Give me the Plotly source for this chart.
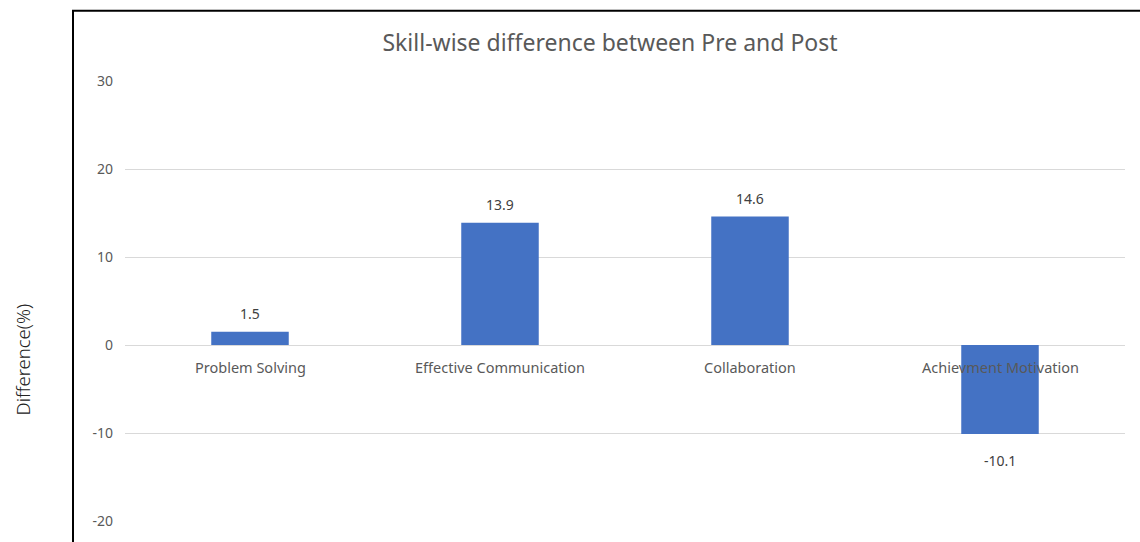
import plotly.graph_objects as go

# Skill categories and pre/post difference (%)
skills = ["Problem Solving", "Effective Communication", "Collaboration", "Achievment Motivation"]
differences = [1.5, 13.9, 14.6, -10.1]
y_ticks = [-20, -10, 0, 10, 20, 30]

W, H = 1140, 542
ML, MR, MT, MB = 125, 15, 81, 17
PW, PH = W - ML - MR, H - MT - MB


def px_x(px):
    return (px - ML) / PW


def px_y(py):
    return (H - MB - py) / PH


grey = "#595959"
font = "Noto Sans"

fig = go.Figure()
fig.add_trace(go.Bar(
    x=skills,
    y=differences,
    marker=dict(color="#4472C4", line=dict(width=0)),
    width=0.31,
    hoverinfo="x+y",
))

annotations = []
# value labels at the bar ends
for s, v in zip(skills, differences):
    annotations.append(dict(
        x=s, y=v, xref="x", yref="y", text=f"{v:g}", showarrow=False,
        yanchor="bottom" if v >= 0 else "top",
        yshift=7 if v >= 0 else -15,
        font=dict(family=font, size=14, color="#404040"),
    ))
# category labels sitting just under the zero line
for s in skills:
    annotations.append(dict(
        x=s, y=0, xref="x", yref="y", text=s, showarrow=False,
        yanchor="middle", yshift=-22,
        font=dict(family=font, size=14.5, color=grey),
    ))
# y-axis title outside the frame
annotations.append(dict(
    x=px_x(22), y=px_y(362), xref="paper", yref="paper",
    text="Difference(%)", textangle=-90, showarrow=False,
    xanchor="center", yanchor="middle",
    font=dict(family=font, size=18.5, color="#222222", weight=300),
))

shapes = [
    dict(type="line", xref="paper", yref="paper",
         x0=px_x(73), x1=px_x(73), y0=px_y(10), y1=px_y(560),
         line=dict(color="#000000", width=2)),
    dict(type="line", xref="paper", yref="paper",
         x0=px_x(72), x1=px_x(1145), y0=px_y(10), y1=px_y(10),
         line=dict(color="#000000", width=2)),
]

fig.update_layout(
    width=W, height=H,
    margin=dict(l=ML, r=MR, t=MT, b=MB),
    paper_bgcolor="white", plot_bgcolor="white",
    showlegend=False,
    bargap=0.69,
    title=dict(
        text="Skill-wise difference between Pre and Post",
        x=px_x(610), xref="paper", xanchor="center",
        y=1 - 43 / H, yref="container", yanchor="middle",
        font=dict(family=font, size=23, color=grey),
    ),
    xaxis=dict(showticklabels=False, showgrid=False, zeroline=False,
               showline=False, ticks="", fixedrange=True),
    yaxis=dict(range=[-20, 30], tickvals=y_ticks,
               ticktext=[str(t) for t in y_ticks],
               showgrid=True, gridcolor="#D9D9D9", gridwidth=1,
               zeroline=True, zerolinecolor="#D9D9D9", zerolinewidth=1,
               showline=False, ticks="", ticklabelstandoff=11,
               tickfont=dict(family=font, size=14, color=grey)),
    annotations=annotations,
    shapes=shapes,
)

fig.write_html("out.html")
